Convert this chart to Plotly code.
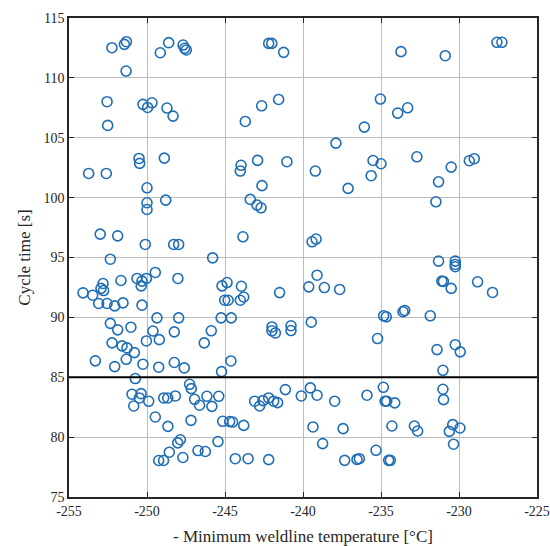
import plotly.graph_objects as go

# Minimum weldline temperature (negated) [°C]
temp = [
    -252.25, -251.45, -251.32, -251.34, -249.15, -248.61, -247.69, -247.59, -247.48, -252.56,
    -252.52, -250.26, -249.96, -249.68, -248.72, -248.33, -250.51, -250.47, -248.89, -242.2,
    -242.0, -241.24, -241.56, -242.65, -243.7, -235.04, -236.07, -237.89, -243.97, -242.91,
    -241.03, -235.51, -235.0, -233.72, -230.88, -227.57, -227.25, -233.93, -233.29, -232.7,
    -230.5, -229.34, -229.02, -253.74, -252.61, -250.0, -250.0, -250.0, -248.8, -244.02,
    -239.21, -235.63, -237.11, -242.63, -243.38, -242.95, -242.69, -231.31, -231.48,
    -253.0, -251.88, -250.11, -248.29, -247.97, -252.35, -245.79, -249.47, -250.64, -250.32,
    -250.04, -250.37, -248.02, -251.67, -252.82, -252.95, -252.78, -254.1, -253.48, -253.1,
    -252.56, -252.07, -251.54, -250.32, -245.19, -244.87, -245.02, -244.8, -249.36, -247.97,
    -245.25, -244.6, -252.35, -251.88, -251.03, -249.62, -248.25, -245.88, -243.85, -239.42,
    -239.16, -239.1, -239.63, -238.63, -237.65, -241.5, -243.95, -243.8, -244.02, -241.99,
    -241.99, -241.77, -240.77, -240.77, -239.47, -234.83, -234.66, -231.31, -230.24, -230.24,
    -230.24, -231.1, -231.0, -230.5, -228.81, -227.85, -233.59, -233.48, -231.84, -235.22,
    -252.24, -251.6, -251.28, -250.81, -250.04, -249.21, -246.33, -253.31, -252.07, -251.33,
    -250.26, -249.25, -248.25, -247.61, -245.22, -244.62, -250.75, -250.96, -250.38, -250.49,
    -249.89, -250.85, -248.93, -248.67, -248.18, -247.27, -247.16, -246.95, -246.63, -246.16,
    -245.4, -245.84, -249.47, -248.66, -247.18, -245.15, -244.7, -244.51, -247.86, -248.03,
    -245.45, -248.57, -247.7, -246.73, -246.26, -249.25, -248.94, -241.13, -239.53, -240.11,
    -239.1, -237.97, -235.9, -234.85, -234.74, -234.63, -243.1, -242.78, -242.57, -242.2,
    -241.88, -241.63, -243.8, -239.36, -237.43, -238.74, -235.32, -244.34, -243.52, -242.2,
    -237.33, -236.54, -236.39, -234.51, -231.41, -230.24, -229.92, -231.03, -231.03, -230.99,
    -234.12, -234.3, -232.86, -232.65, -230.4, -230.62, -229.94, -230.35, -234.4,
]

# Cycle time [s]
cycle = [
    112.52, 112.8, 113.02, 110.57, 112.1, 112.94, 112.74, 112.47, 112.33, 108.01,
    106.03, 107.79, 107.53, 107.92, 107.48, 106.81, 103.27, 102.86, 103.3, 112.88,
    112.88, 112.13, 108.2, 107.67, 106.36, 108.23, 105.89, 104.55, 102.7, 103.11,
    103.0, 103.1, 102.83, 112.19, 111.85, 112.97, 112.97, 107.06, 107.5, 103.41,
    102.55, 103.08, 103.25, 102.02, 102.02, 100.82, 99.57, 99.01, 99.79, 102.22,
    102.22, 101.83, 100.77, 101.0, 99.85, 99.38, 99.15, 101.32, 99.65,
    96.95, 96.81, 96.09, 96.09, 96.09, 94.86, 94.97, 93.75, 93.25, 93.03,
    93.25, 92.63, 93.25, 93.08, 92.83, 92.42, 92.24, 92.05, 91.85, 91.16,
    91.16, 90.96, 91.21, 91.02, 92.63, 92.91, 91.43, 91.43, 89.96, 89.96,
    89.96, 89.96, 89.5, 88.96, 89.18, 88.86, 88.79, 88.88, 96.73, 96.31,
    96.54, 93.52, 92.55, 92.49, 92.33, 92.07, 92.6, 91.7, 91.43, 89.2,
    88.88, 88.7, 89.3, 88.9, 89.6, 90.13, 90.05, 94.7, 94.7, 94.42,
    94.23, 93.03, 93.0, 92.42, 92.97, 92.08, 90.47, 90.58, 90.13, 88.23,
    87.87, 87.62, 87.45, 87.06, 88.03, 88.14, 87.87, 86.37, 85.89, 86.5,
    86.09, 85.84, 86.23, 85.78, 85.47, 86.36, 84.89, 83.58, 83.63, 83.27,
    82.99, 82.6, 83.27, 83.27, 83.44, 84.41, 84.05, 83.16, 82.66, 83.41,
    83.41, 82.57, 81.68, 80.9, 81.4, 81.32, 81.3, 81.26, 79.78, 79.52,
    79.63, 78.74, 78.3, 78.88, 78.8, 78.05, 78.05, 83.97, 84.11, 83.44,
    83.5, 83.0, 83.5, 84.16, 83.0, 83.0, 83.0, 82.6, 83.05, 83.27,
    83.0, 82.88, 80.98, 80.85, 80.71, 79.46, 78.9, 78.2, 78.2, 78.12,
    78.06, 78.14, 78.2, 78.06, 87.31, 87.72, 87.12, 85.58, 84.0, 83.13,
    82.86, 80.93, 80.93, 80.51, 81.04, 80.48, 80.76, 79.41, 78.06,
]

threshold = 85

x_ticks = [-255, -250, -245, -240, -235, -230, -225]
x_ticktext = ["-255", "-250", "-245", "-240", "-235", "-230", "-225"]
y_ticks = [75, 80, 85, 90, 95, 100, 105, 110, 115]
y_ticktext = ["75", "80", "85", "90", "95", "100", "105", "110", "115"]

FONT = "Liberation Serif, Times New Roman, serif"
BLUE = "#1f6eb5"

fig = go.Figure()
fig.add_trace(go.Scatter(
    x=temp, y=cycle, mode="markers",
    marker=dict(symbol="circle-open", size=10, color=BLUE, line=dict(width=1.6, color=BLUE)),
    showlegend=False,
))

fig.add_shape(type="line", xref="paper", x0=0, x1=1, yref="y", y0=threshold, y1=threshold,
              line=dict(color="#000000", width=2), layer="above")

axis_common = dict(
    showgrid=True, gridcolor="#bdbdbd", gridwidth=1.4,
    showline=True, linecolor="#262626", linewidth=1.6, mirror="ticks",
    ticks="inside", ticklen=5, tickwidth=1.4, tickcolor="#262626",
    zeroline=False, automargin=False,
    tickfont=dict(family=FONT, size=14, color="#262626"),
)

fig.update_layout(
    width=550, height=546,
    margin=dict(l=69, r=13, t=18, b=49),
    plot_bgcolor="white", paper_bgcolor="white",
    font=dict(family=FONT, color="#262626"),
    xaxis=dict(range=[-255, -225], tickvals=x_ticks, ticktext=x_ticktext,
               title=dict(text="- Minimum weldline temperature [°C]", font=dict(family=FONT, size=17), standoff=14),
               **axis_common),
    yaxis=dict(range=[75, 115], tickvals=y_ticks, ticktext=y_ticktext,
               title=dict(text="Cycle time [s]", font=dict(family=FONT, size=17), standoff=8),
               **axis_common),
)

fig.write_html("out.html")
